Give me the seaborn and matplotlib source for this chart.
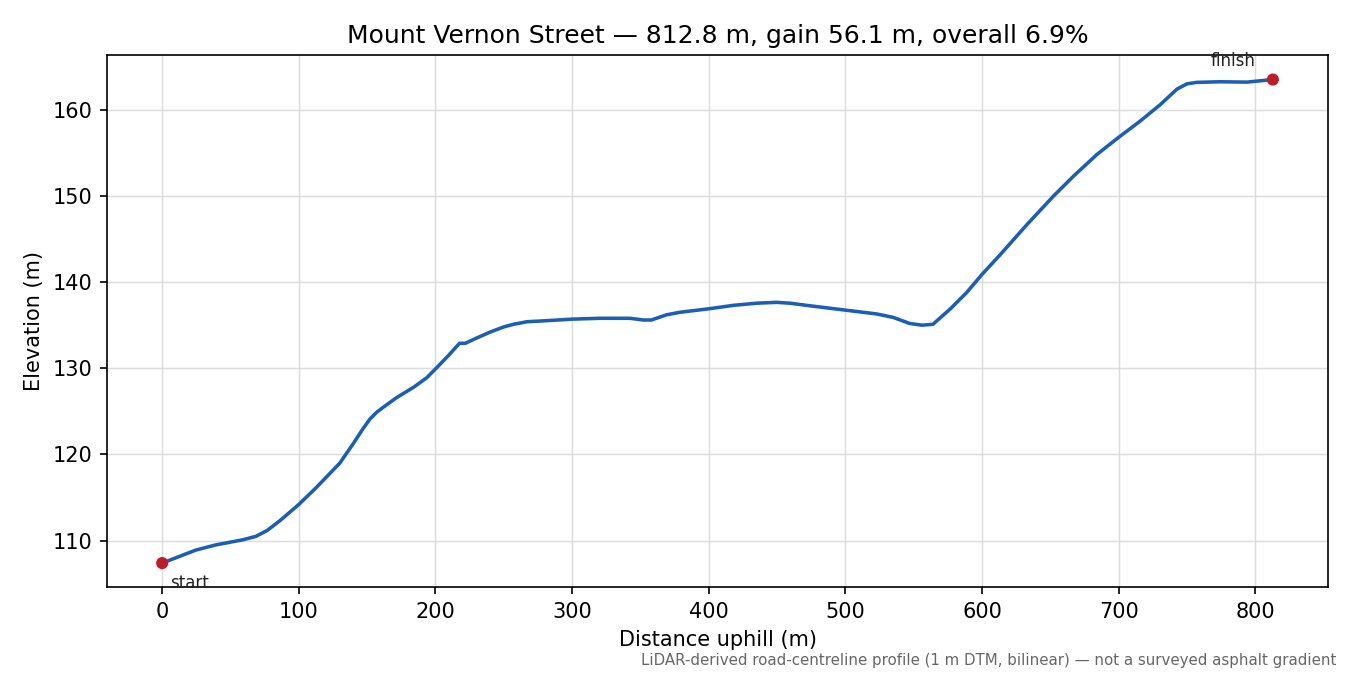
import numpy as np
import pandas as pd
import matplotlib
matplotlib.use("Agg")
import matplotlib.pyplot as plt
import seaborn as sns

# profile
distance_m = [0, 24.5, 39, 59, 68.6, 77, 86, 100, 113, 130, 140, 147, 152, 157, 162, 171.6, 184,
              193.6, 200.5, 209.6, 217.6, 221.8, 230, 240, 250, 257, 267, 279, 300,
              320.5, 342.4, 352, 358, 369, 379, 400, 418, 435, 449.8, 459.5, 474,
              499.8, 523, 535, 547, 556, 564, 568.3, 576.8, 588.8, 600, 613.4, 633,
              652.4, 667, 684, 700, 715.9, 730.5, 742.7, 750, 757, 774, 794, 812.8]
elevation_m = [107.4, 108.9, 109.5, 110.1, 110.5, 111.2, 112.3, 114.2, 116.2, 119.0, 121.3,
               123.0, 124.1, 124.9, 125.5, 126.6, 127.8, 128.9, 130.0, 131.5, 132.9, 132.9, 133.5, 134.2,
               134.8, 135.1, 135.4, 135.5, 135.7, 135.8, 135.8, 135.6, 135.6, 136.2, 136.5,
               136.9, 137.3, 137.55, 137.65, 137.55, 137.25, 136.75, 136.3, 135.9, 135.2,
               135.0, 135.1, 135.7, 136.9, 138.8, 140.9, 143.2, 146.7, 150.0, 152.3, 154.8,
               156.8, 158.7, 160.6, 162.4, 163.0, 163.17, 163.24, 163.2, 163.5]

ends = pd.DataFrame({"d": [distance_m[0], distance_m[-1]],
                     "z": [elevation_m[0], elevation_m[-1]]})
profile = pd.DataFrame({"d": distance_m, "z": elevation_m})

length = distance_m[-1]
gain = elevation_m[-1] - elevation_m[0]
title = f"Mount Vernon Street \u2014 {length:.1f} m, gain {gain:.1f} m, overall {gain / length * 100:.1f}%"

fig, ax = plt.subplots(figsize=(9, 4.5), dpi=150)
sns.lineplot(data=profile, x="d", y="z", ax=ax, color="#1a5fb4", linewidth=1.7)
sns.scatterplot(data=ends, x="d", y="z", ax=ax, color="#c01c28", s=34, zorder=3, edgecolor="none")

ax.annotate("start", (ends.d[0], ends.z[0]), xytext=(4, -9.5), textcoords="offset points",
            fontsize=8, ha="left", va="center", color="#222222")
ax.annotate("finish", (ends.d[1], ends.z[1]), xytext=(-19, 9), textcoords="offset points",
            fontsize=8, ha="center", va="center", color="#222222")

ax.grid(True, color="#d6d6d6", linewidth=0.7, alpha=0.85)
ax.set_axisbelow(True)
ax.set_xlabel("Distance uphill (m)")
ax.set_ylabel("Elevation (m)")
ax.set_title(title, fontsize=12)

fig.text(0.99, 0.011, "LiDAR-derived road-centreline profile (1 m DTM, bilinear) \u2014 not a surveyed asphalt gradient",
         ha="right", va="bottom", fontsize=7.2, color="#666666")

fig.subplots_adjust(left=0.079, right=0.984, top=0.918, bottom=0.13)
fig.savefig("out.png", dpi=150)
